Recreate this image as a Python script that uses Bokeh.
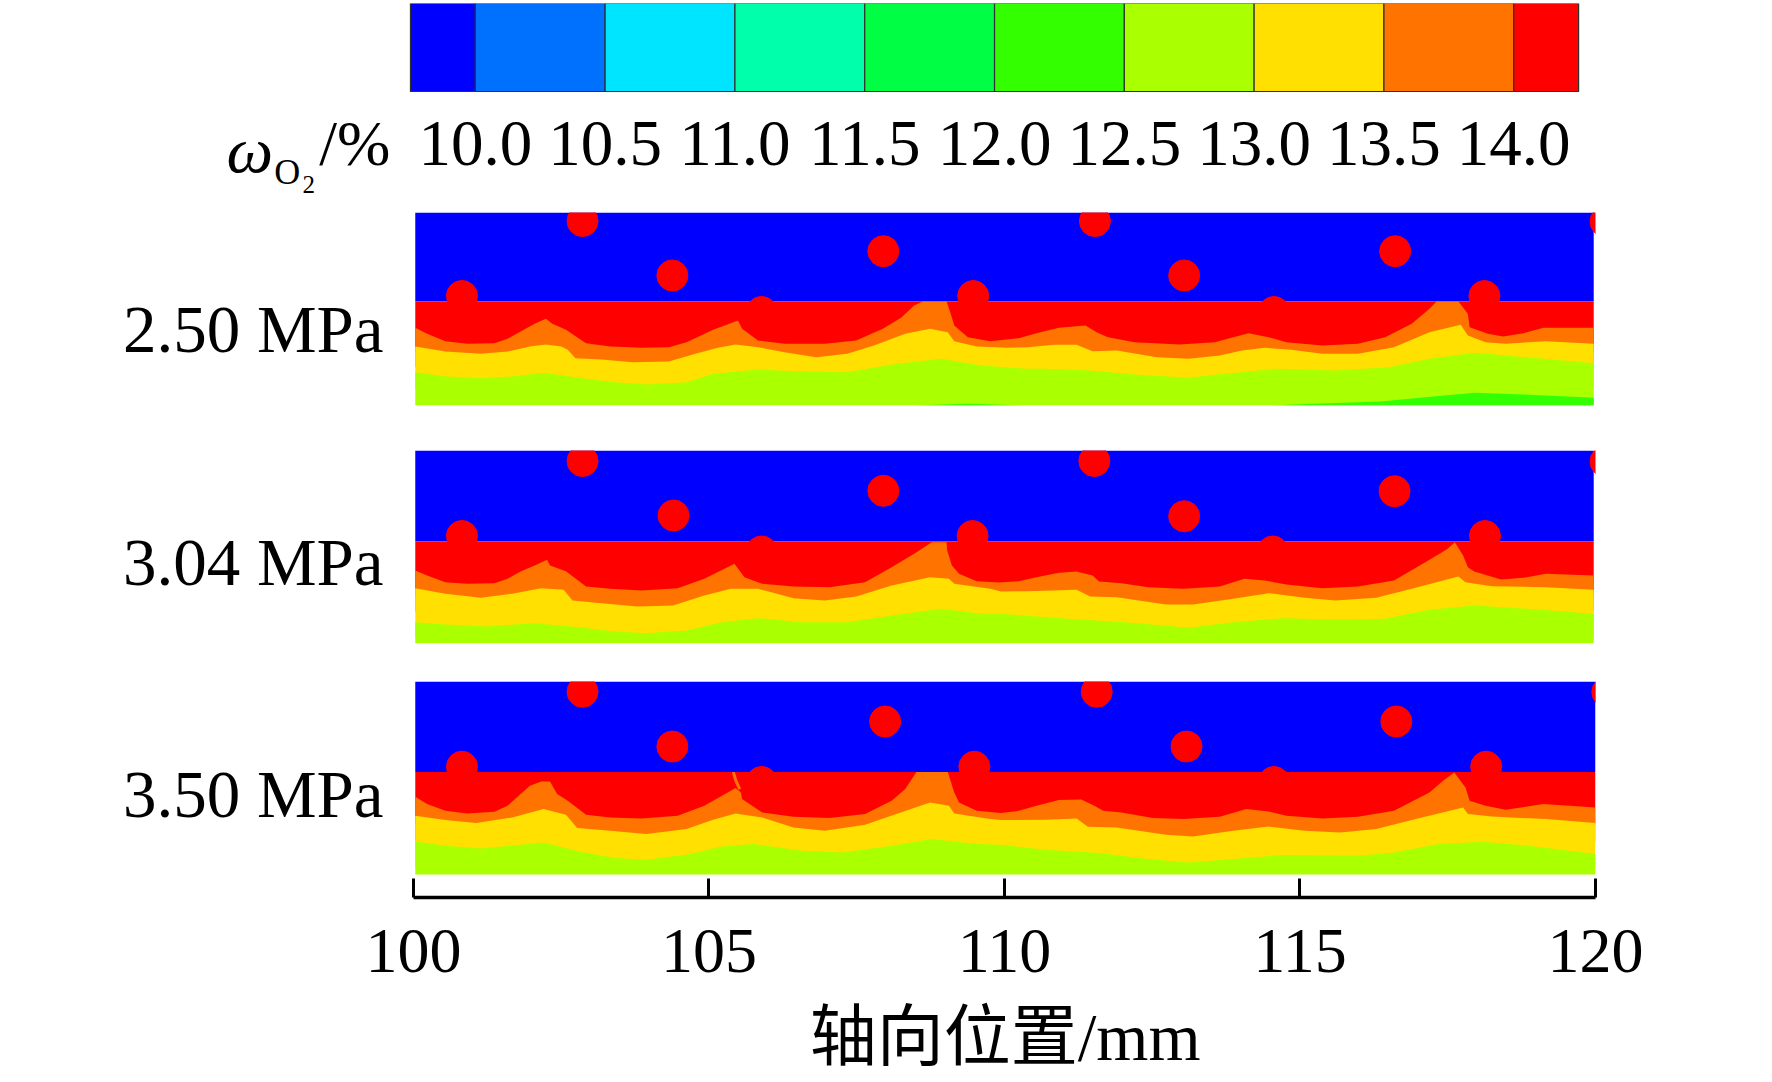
from bokeh.embed import file_html
from bokeh.resources import INLINE
from bokeh.plotting import figure
from bokeh.layouts import column
from bokeh.models import Range1d, FixedTicker
from bokeh.core.properties import value

# ---------- data ----------
levels = [10.0, 10.5, 11.0, 11.5, 12.0, 12.5, 13.0, 13.5, 14.0]
level_labels = ["10.0", "10.5", "11.0", "11.5", "12.0", "12.5", "13.0", "13.5", "14.0"]
band_edges = [9.75, 10.0, 10.5, 11.0, 11.5, 12.0, 12.5, 13.0, 13.5, 14.0, 14.25]
band_colors = ["#0000ff", "#0070ff", "#00e5ff", "#00ffaa", "#00ff44", "#33ff00", "#aaff00", "#ffe000", "#ff7300", "#ff0000"]
x_ticks = [100, 105, 110, 115, 120]

# panel 1 (2.50 MPa): axial position / mm, radial height / image units
p1_ro_x = [100.03,100.23,100.54,100.91,101.37,101.59,101.82,102.05,102.24,102.35,102.58,102.92,103.33,103.86,104.32,104.62,105.07,105.49,105.56,105.83,106.28,106.96,107.49,107.94,108.25,108.47,108.62,109.02,109.09,109.15,109.38,109.76,110.24,110.54,110.92,111.37,111.56,111.75,112.20,112.96,113.56,113.87,114.13,114.47,114.77,115.38,115.98,116.44,116.89,117.19,117.31,117.68,117.84,117.87,118.18,118.44,118.78,119.12,119.97]
p1_ro_h = [77.7,71.7,64.3,61.7,62.3,66.7,74.3,81.7,86.7,81.7,75.7,62.3,59,57.7,58.3,63.3,75.7,85,76.7,65,61.7,61.7,65,76.7,87.7,100,104,104,91.7,80,68.3,64.3,67.3,72.3,77.7,80,73.3,68.3,63.3,61,63.3,68.3,72.3,68.3,63.3,60,61.7,68.3,81.7,96.7,104,104,91.7,78.3,71.7,69,72.3,77.7,77.7]
p1_oy_x = [100.03,100.54,101.14,101.59,101.97,102.24,102.50,102.61,102.74,103.18,103.71,104.32,104.77,105.15,105.45,105.83,106.28,106.81,107.34,107.79,108.32,108.74,109.04,109.15,109.53,110.06,110.39,110.84,111.22,111.49,111.90,112.58,113.11,113.64,114.02,114.40,114.85,115.38,115.98,116.59,117.19,117.72,117.84,118.14,118.48,119.16,119.97]
p1_oy_h = [59,54,51.7,54,59,61,59,55.7,47.3,46,43.3,44,51.7,57.7,61,58.3,53.3,48.3,51.7,60,71.7,76.7,73.3,64.3,59,57.7,58.3,60.7,60.7,54.3,55,48.3,46.7,50,55,57.7,55.7,51.7,51.7,58.3,73.3,80.7,70,63.3,61.7,64.3,61.7]
p1_yl_x = [100.03,100.54,101.14,101.67,102.20,102.80,103.41,103.94,104.62,105.07,105.83,106.58,107.34,108.09,108.93,109.61,110.36,110.69,111.45,112.20,113.11,113.71,114.62,115.60,116.51,117.19,117.95,118.63,119.97]
p1_yl_h = [33.3,29,27.3,29,32.7,27.7,23.3,21,23.3,31.7,36,34,33.3,41,46.7,40,36.7,36.7,35,31,27.7,31.7,36.7,35,38.3,46.7,52.7,49.3,42.3]
p1_lg_x = [108.47,109.38,110.36,114.47,115.23,116.36,117.12,117.95,118.78,119.97]
p1_lg_h = [0,1.7,0,0,1.7,4,8.3,12.7,11,7.7]
p1_dot_x = [100.82,102.86,104.38,105.89,107.95,109.47,111.53,113.04,114.56,116.61,118.12,120.17]
p1_dot_h = [109.5,184.5,130,93.5,154.3,109.5,184.5,130,93.5,154.3,109.5,184]

# panel 2 (3.04 MPa)
p2_ro_x = [100.03,100.23,100.54,100.91,101.37,101.59,101.82,102.05,102.26,102.31,102.58,102.92,103.33,103.86,104.47,104.92,105.43,105.60,105.90,106.43,107.04,107.64,108.09,108.47,108.77,109.02,109.03,109.11,109.23,109.53,109.91,110.24,110.54,110.92,111.22,111.49,111.60,111.98,112.43,113.03,113.64,114.06,114.40,114.77,115.38,115.98,116.59,117.12,117.50,117.62,117.76,117.84,117.95,118.40,118.78,119.16,119.97]
p2_ro_h = [73,68,61.3,59.7,60.3,64.7,72.3,78,83.7,78,72.3,57,54.7,53,55.3,64.7,79.7,66.3,59.7,57,56.3,61.3,76.3,89.7,101.3,101.3,93,78,69.7,62.3,61,62.3,66.3,70.7,72,68,62,60.3,56.3,54.7,57,64.7,63,59,55.3,57,63,81.3,94.7,101.3,88,76.3,72,64,65.7,69.7,68]
p2_oy_x = [100.03,100.54,101.14,101.67,102.16,102.54,102.69,103.18,103.79,104.39,104.92,105.37,105.83,106.43,106.96,107.49,108.09,108.74,109.06,109.15,109.76,109.94,110.39,111.22,111.45,111.90,112.73,113.19,113.87,114.47,115.08,115.60,116.29,116.89,117.68,117.80,118.25,119.16,119.97]
p2_oy_h = [55.3,49.7,45.7,49.7,55.3,53.7,43,40.3,37,38,48,54.7,54.7,45.3,43,47,58,66.3,64.7,59.7,54.7,52,52.3,53.7,47,46.3,39,39,44.7,50.3,45.7,43,45.7,54.7,67,61.3,57.3,56.3,53.7]
p2_yl_x = [100.03,100.54,101.22,102.05,102.80,103.41,103.94,104.62,105.22,105.83,106.58,107.34,108.09,108.93,109.61,109.94,111.07,112.05,113.11,113.87,114.70,115.60,116.44,117.19,117.95,118.86,119.97]
p2_yl_h = [21.3,19,17,20.3,16.3,12,10.3,13,21.3,25.3,21.3,21.3,28,34.7,29.7,29.7,24.7,21.3,15.7,21.3,25.3,24,24.7,33.7,38,34.7,29.7]
p2_dot_x = [100.82,102.86,104.40,105.89,107.95,109.46,111.52,113.04,114.54,116.60,118.13,120.17]
p2_dot_h = [107.5,182.5,128,92,152.7,107.5,182.5,127.3,92,152.3,107.5,182]

# panel 3 (3.50 MPa)
p3_ro_x = [100.03,100.23,100.54,100.91,101.37,101.59,101.78,101.97,102.16,102.31,102.43,102.61,102.92,103.33,103.86,104.47,104.92,105.45,105.54,105.56,105.90,106.43,107.04,107.64,108.09,108.32,108.51,109.04,109.15,109.23,109.53,109.94,110.24,110.54,110.92,111.30,111.52,111.67,111.98,112.51,113.03,113.64,114.09,114.47,114.77,115.38,115.98,116.59,117.19,117.42,117.61,117.80,117.87,118.14,118.48,119.12,120.0]
p3_ro_h = [77.7,70.4,63.7,61,62.7,68.7,78.7,88.7,93,93,80.4,73.7,59.7,57,56,58.7,68.7,86.4,82,75.4,62,57.7,56.4,60.4,73.7,85.4,102.4,102.4,82,72,63.7,61.4,63.7,68.7,74.4,75,68.7,63.7,62,56.4,55.4,57.7,65.4,63,58.7,56,57.7,63.7,82,93.7,102,87,73.7,68.7,64.7,70.4,67]
p3_oy_x = [100.03,100.54,101.06,101.67,102.20,102.58,102.77,103.33,103.94,104.62,105.07,105.45,105.90,106.43,106.96,107.64,108.17,108.74,109.06,109.15,109.76,109.94,110.69,111.22,111.41,111.90,112.73,113.19,113.87,114.47,115.08,115.68,116.29,116.89,117.76,117.84,118.25,119.16,120.0]
p3_oy_h = [58.7,54.4,51.4,57,65.4,59.7,46.4,43.7,40.4,45.4,54.7,61,57,47,43.7,49.7,60.4,72,68.7,61,55.4,54.4,54.7,56,47.7,47,39.7,38,43.7,48,43.7,42,45.4,54.4,67,60.4,58,55.4,51.4]
p3_yl_x = [100.03,100.54,101.14,102.20,102.80,103.41,103.94,104.69,105.22,105.75,106.58,107.26,108.09,108.77,109.53,109.94,110.69,111.60,112.43,113.11,113.87,114.70,115.98,116.59,117.34,118.10,118.86,120.0]
p3_yl_h = [33,28.7,26,32,23,16.4,14.7,20.4,28,30.4,23.7,22,28.7,35.4,30.4,29.7,24.7,21.4,15.4,12,15.4,19.4,18.7,22,30.4,32.7,28.7,20.4]
p3_dot_x = [100.82,102.86,104.38,105.89,107.98,109.49,111.56,113.08,114.56,116.63,118.15,120.2]
p3_dot_h = [107.8,182.8,128,92.5,153,107.8,182.8,128,92.5,153,107.8,182.5]
p3_sliver_x = [105.41,105.46,105.52]
p3_sliver_h = [102.4,93,85.4]

pressures = ["2.50 MPa", "3.04 MPa", "3.50 MPa"]
x_title = "轴向位置/mm"

# ---------- styling ----------
SERIF = "Liberation Serif"
BLUE, RED, ORANGE, YELLOW, LIME, GREEN = "#0000ff", "#ff0000", "#ff7300", "#ffe000", "#aaff00", "#33ff00"
FRAME_W = 1495      # all frames run from x = 100 to x = 1595 on the page
LEFT = 100
RIGHT = 150
FIG_W = 1745
X_START = 94.704    # the axial scale reaches left so that the pressure labels fit in the frame
LABEL_X = 99.492

# ---------- colour bar: the frame holds the bar and all of its texts ----------
head = figure(width=FIG_W, height=212, output_backend="svg", toolbar_location=None,
              x_range=Range1d(8.556, 14.315), y_range=Range1d(-1.375, 1),
              frame_width=FRAME_W, frame_height=209,
              min_border_left=LEFT, min_border_top=3, min_border_bottom=0, min_border_right=RIGHT,
              x_axis_location=None, y_axis_location=None)
head.grid.visible = False
head.outline_line_color = None
head.quad(left=band_edges[:-1], right=band_edges[1:], bottom=0, top=1,
          fill_color=band_colors, line_color="#303030", line_width=1.2)
head.text(x=levels, y=[-0.591] * len(levels), text=level_labels, text_font=value(SERIF), text_font_size="65px",
          text_align="center", text_baseline="middle", text_color="#000000")
for txt, x, y, size, style in [("ω", 9.041, -0.66, "66px", "italic"),
                               ("O", 9.225, -0.92, "36px", "normal"),
                               ("2", 9.334, -1.06, "25px", "normal"),
                               ("/%", 9.399, -0.591, "64px", "normal")]:
    head.text(x=[x], y=[y], text=[txt], text_font=value(SERIF), text_font_size=size, text_font_style=style,
              text_color="#000000", text_baseline="middle", text_align="left")


# ---------- contour panels ----------
def panel(name, label_h, boundary, x_end, dots, contours, fig_h, frame_h, y_start, bottom):
    p = figure(width=FIG_W, height=fig_h, output_backend="svg", toolbar_location=None,
               x_range=Range1d(X_START, 120), y_range=Range1d(y_start, 193),
               frame_width=FRAME_W, frame_height=frame_h,
               min_border_left=LEFT, min_border_top=0, min_border_bottom=bottom, min_border_right=RIGHT,
               y_axis_location=None)
    p.grid.visible = False
    p.outline_line_color = None
    p.quad(left=[100.03], right=[x_end], bottom=[boundary], top=[193], fill_color=BLUE, line_color=None)
    p.scatter(dots[0], dots[1], size=31, color=RED)
    p.quad(left=[100.03], right=[x_end], bottom=[min(contours[0][1]) - 5], top=[boundary], fill_color=RED, line_color=None)
    for i, (cx, ch, col) in enumerate(contours):
        # each band only needs to reach under the next one; lime reaches the panel's bottom edge
        under = contours[i + 1] if i + 1 < len(contours) else None
        floor = min(under[1]) - 5 if under is not None and col != LIME else 0
        p.varea(x=cx, y1=[floor] * len(cx), y2=ch, fill_color=col)
    p.text(x=[LABEL_X], y=[label_h], text=[name], text_font=value(SERIF), text_font_size="67px",
           text_align="right", text_baseline="middle", text_color="#000000")
    return p


p1 = panel(pressures[0], 77, 104, 119.97, (p1_dot_x, p1_dot_h),
           [(p1_ro_x, p1_ro_h, ORANGE), (p1_oy_x, p1_oy_h, YELLOW), (p1_yl_x, p1_yl_h, LIME), (p1_lg_x, p1_lg_h, GREEN)],
           238, 193, 0, 45)
p1.xaxis.visible = False
p2 = panel(pressures[1], 82, 102, 119.97, (p2_dot_x, p2_dot_h),
           [(p2_ro_x, p2_ro_h, ORANGE), (p2_oy_x, p2_oy_h, YELLOW), (p2_yl_x, p2_yl_h, LIME)],
           231, 193, 0, 38)
p2.xaxis.visible = False
p3 = panel(pressures[2], 81, 102.4, 120.0, (p3_dot_x, p3_dot_h),
           [(p3_ro_x, p3_ro_h, ORANGE), (p3_oy_x, p3_oy_h, YELLOW), (p3_yl_x, p3_yl_h, LIME)],
           319, 216, -23, 103)
p3.line(p3_sliver_x, p3_sliver_h, color=ORANGE, line_width=3)

xa = p3.xaxis[0]
xa.bounds = (100, 120)
xa.ticker = FixedTicker(ticks=x_ticks)
xa.axis_line_color = "#000000"
xa.axis_line_width = 3.5
xa.major_tick_line_color = "#000000"
xa.major_tick_line_width = 3
xa.major_tick_in = 19
xa.major_tick_out = 0
xa.minor_tick_line_color = None
xa.major_label_text_font = SERIF
xa.major_label_text_font_size = "64px"
xa.major_label_text_color = "#000000"
xa.major_label_standoff = 32

# ---------- axis title, centred on the axis rather than on the wider frame ----------
foot = figure(width=FIG_W, height=72, output_backend="svg", toolbar_location=None,
              x_range=Range1d(X_START, 120), y_range=Range1d(0, 72),
              frame_width=FRAME_W, frame_height=72,
              min_border_left=LEFT, min_border_top=0, min_border_bottom=0, min_border_right=RIGHT,
              x_axis_location=None, y_axis_location=None)
foot.grid.visible = False
foot.outline_line_color = None
foot.text(x=[110.01], y=[36], text=[x_title], text_font=value("'Liberation Serif', 'Noto Sans CJK SC'"),
          text_font_size="67px", text_align="center", text_baseline="middle", text_color="#000000")

root = column(head, p1, p2, p3, foot, spacing=0)
open("out.html", "w").write(file_html(root, INLINE))
